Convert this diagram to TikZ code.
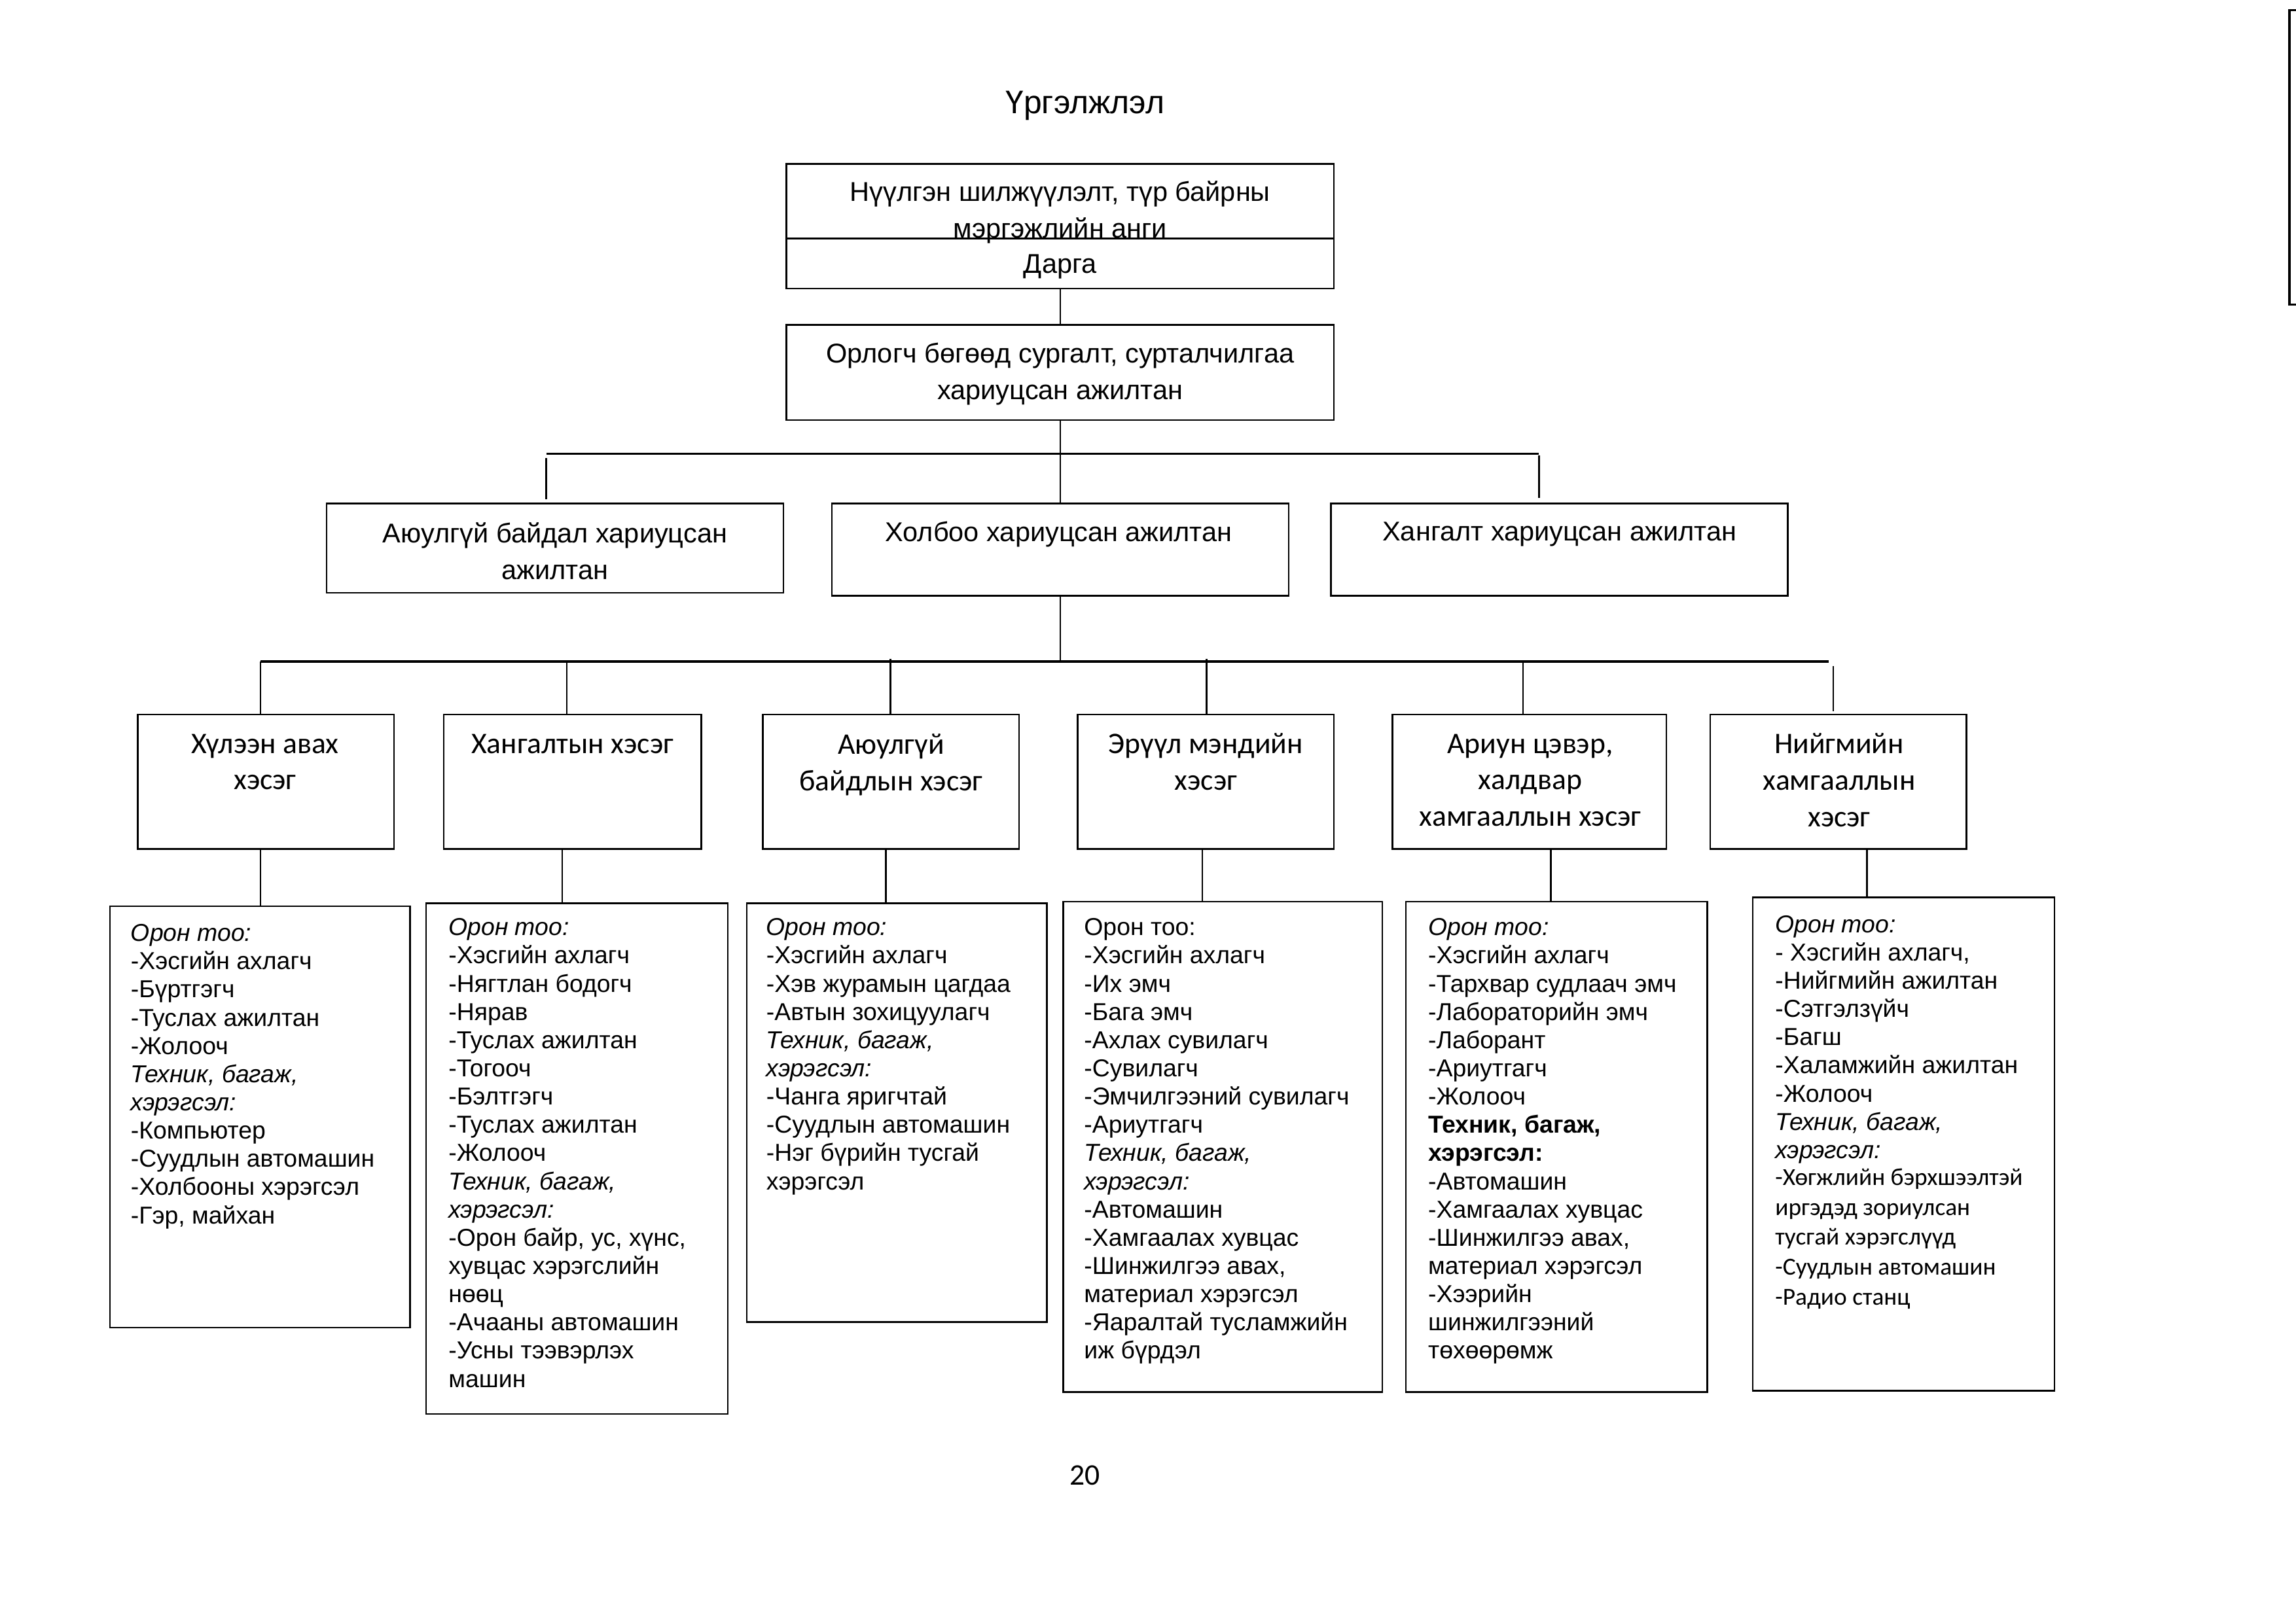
\documentclass[tikz,border=0pt]{standalone}
\usepackage{fontspec}
\setmainfont{Liberation Sans}
\newfontfamily\calfont{Carlito}
\newlength\uu
\setlength\uu{0.018941cm}
\newcommand\boxnode[5]{\node[box, minimum width={(#4-#2)*\uu}, minimum height={(#5-#3)*\uu}] (#1) at ({(#2+#4)/2},{(#3+#5)/2}) {};}
\begin{document}
\begin{tikzpicture}[x=0.018941cm, y=-0.018941cm,
  box/.style={draw, rectangle, line width=0.6pt, inner sep=0pt, outer sep=0pt},
  conn/.style={line width=0.6pt},
  bus/.style={line width=0.9pt},
  lbl/.style={inner sep=0pt, align=center, font=\fontsize{10}{13.46}\selectfont},
  ttl/.style={inner sep=0pt, font=\fontsize{12}{14}\selectfont},
  dept/.style={inner sep=0pt, align=center, font=\calfont\fontsize{11}{13.46}\selectfont},
  lst/.style={inner sep=0pt, anchor=north west, align=left, font=\fontsize{9}{10.39}\selectfont},
  lstc/.style={inner sep=0pt, anchor=north west, align=left, font=\calfont\fontsize{9}{11.0}\selectfont}]
\fill[white] (0,0) rectangle (1568,1109);
\useasboundingbox (0,0) rectangle (1568,1109);

% title
\node[ttl] (title) at (741,72) {Үргэлжлэл};

% top boxes
\boxnode{a}{537}{112}{911}{197}
\draw[conn] (a.west |- 0,163) -- (a.east |- 0,163);
\node[lbl] (at) at (724,145) {Нүүлгэн шилжүүлэлт, түр байрны\\мэргэжлийн анги};
\node[lbl] (ad) at (724,182) {Дарга};

\boxnode{b}{537}{222}{911}{287}
\node[lbl] (bt) at (724,255.5) {Орлогч бөгөөд сургалт, сурталчилгаа\\хариуцсан ажилтан};
\draw[conn] (a.south) -- (b.north);

% second level
\boxnode{c1}{223}{344}{535}{405}
\boxnode{c2}{568}{344}{880}{407}
\boxnode{c3}{909}{344}{1221}{407}
\node[lbl] (c1t) at (379,376.5) {Аюулгүй байдал хариуцсан\\ажилтан};
\node[lbl] (c2t) at (723,365) {Холбоо хариуцсан ажилтан};
\node[lbl] (c3t) at (1065,365) {Хангалт хариуцсан ажилтан};

\coordinate (busAL) at (373,310);
\coordinate (busAR) at (1051,310);
\draw[bus] (busAL) -- (busAR);
\draw[conn] (b.south) -- (c2.north);
\coordinate (vA1) at (373,313);
\coordinate (vA3) at (1051,311);
\draw[conn] (vA1) -- ([yshift=3\uu]vA1 |- c1.north);
\draw[conn] (vA3) -- ([yshift=4\uu]vA3 |- c3.north);

% third level
\boxnode{d1}{94}{488}{269}{580}
\boxnode{d2}{303}{488}{479}{580}
\boxnode{d3}{521}{488}{696}{580}
\boxnode{d4}{736}{488}{911}{580}
\boxnode{d5}{951}{488}{1138}{580}
\boxnode{d6}{1168}{488}{1343}{580}
\node[dept] (d1t) at (181,520.5) {Хүлээн авах\\хэсэг};
\node[dept] (d2t) at (391,508) {Хангалтын хэсэг};
\node[dept] (d3t) at (608.5,522.5) {Аюулгүй\\байдлын хэсэг};
\node[dept] (d4t) at (823.5,520.5) {Эрүүл мэндийн\\хэсэг};
\node[dept] (d5t) at (1045,533) {Ариун цэвэр,\\халдвар\\хамгааллын хэсэг};
\node[dept] (d6t) at (1256,533) {Нийгмийн\\хамгааллын\\хэсэг};

\coordinate (busBL) at (178,452);
\coordinate (busBR) at (1249,452);
\draw[bus] (busBL) -- (busBR);
\draw[conn] (c2.south) -- (c2.south |- busBL);
\coordinate (vB1) at (178,452);
\coordinate (vB2) at (387,452);
\coordinate (vB3) at (608,450);
\coordinate (vB4) at (824,450);
\coordinate (vB5) at (1040,452);
\coordinate (vB6) at (1252,455);
\draw[conn] (vB1) -- (vB1 |- d1.north);
\draw[conn] (vB2) -- (vB2 |- d2.north);
\draw[conn] (vB3) -- (vB3 |- d3.north);
\draw[conn] (vB4) -- (vB4 |- d4.north);
\draw[conn] (vB5) -- (vB5 |- d5.north);
\draw[conn] (vB6) -- ([yshift=2\uu]vB6 |- d6.north);

% bottom boxes
\boxnode{e1}{75}{619}{280}{907}
\boxnode{e2}{291}{617}{497}{966}
\boxnode{e3}{510}{617}{715}{903}
\boxnode{e4}{726}{616}{944}{951}
\boxnode{e5}{960}{616}{1166}{951}
\boxnode{e6}{1197}{613}{1403}{950}

\coordinate (x1) at (178,0);
\coordinate (x2) at (384,0);
\coordinate (x3) at (605,0);
\coordinate (x4) at (821,0);
\coordinate (x5) at (1059,0);
\coordinate (x6) at (1275,0);
\draw[conn] (d1.south -| x1) -- (e1.north -| x1);
\draw[conn] (d2.south -| x2) -- (e2.north -| x2);
\draw[conn] (d3.south -| x3) -- (e3.north -| x3);
\draw[conn] (d4.south -| x4) -- (e4.north -| x4);
\draw[conn] (d5.south -| x5) -- (e5.north -| x5);
\draw[conn] (d6.south -| x6) -- (e6.north -| x6);

\node[lst] (e1t) at (89,631) {\textit{Орон тоо:}\\-Хэсгийн ахлагч\\-Бүртгэгч\\-Туслах ажилтан\\-Жолооч\\\textit{Техник, багаж,}\\\textit{хэрэгсэл:}\\-Компьютер\\-Суудлын автомашин\\-Холбооны хэрэгсэл\\-Гэр, майхан};

\node[lst] (e2t) at (306,627) {\textit{Орон тоо:}\\-Хэсгийн ахлагч\\-Нягтлан бодогч\\-Нярав\\-Туслах ажилтан\\-Тогооч\\-Бэлтгэгч\\-Туслах ажилтан\\-Жолооч\\\textit{Техник, багаж,}\\\textit{хэрэгсэл:}\\-Орон байр, ус, хүнс,\\хувцас хэрэгслийн\\нөөц\\-Ачааны автомашин\\-Усны тээвэрлэх\\машин};

\node[lst] (e3t) at (523,627) {\textit{Орон тоо:}\\-Хэсгийн ахлагч\\-Хэв журамын цагдаа\\-Автын зохицуулагч\\\textit{Техник, багаж,}\\\textit{хэрэгсэл:}\\-Чанга яригчтай\\-Суудлын автомашин\\-Нэг бүрийн тусгай\\хэрэгсэл};

\node[lst] (e4t) at (740,627) {Орон тоо:\\-Хэсгийн ахлагч\\-Их эмч\\-Бага эмч\\-Ахлах сувилагч\\-Сувилагч\\-Эмчилгээний сувилагч\\-Ариутгагч\\\textit{Техник, багаж,}\\\textit{хэрэгсэл:}\\-Автомашин\\-Хамгаалах хувцас\\-Шинжилгээ авах,\\материал хэрэгсэл\\-Яаралтай тусламжийн\\иж бүрдэл};

\node[lst] (e5t) at (975,627) {\textit{Орон тоо:}\\-Хэсгийн ахлагч\\-Тархвар судлаач эмч\\-Лабораторийн эмч\\-Лаборант\\-Ариутгагч\\-Жолооч\\\textbf{Техник, багаж,}\\\textbf{хэрэгсэл:}\\-Автомашин\\-Хамгаалах хувцас\\-Шинжилгээ авах,\\материал хэрэгсэл\\-Хээрийн\\шинжилгээний\\төхөөрөмж};

\node[lst] (e6t) at (1212,625) {\textit{Орон тоо:}\\- Хэсгийн ахлагч,\\-Нийгмийн ажилтан\\-Сэтгэлзүйч\\-Багш\\-Халамжийн ажилтан\\-Жолооч\\\textit{Техник, багаж,}\\\textit{хэрэгсэл:}};
\node[lstc] (e6c) at (1212,798) {-Хөгжлийн бэрхшээлтэй\\иргэдэд зориулсан\\тусгай хэрэгслүүд\\-Суудлын автомашин\\-Радио станц};

% page number
\node[inner sep=0pt, font=\calfont\fontsize{11}{13}\selectfont] (pg) at (741,1008) {20};

% page edge mark
\draw[line width=0.8pt] (1568,7) -- (1563.5,7) -- (1563.5,208) -- (1568,208);
\end{tikzpicture}
\end{document}
